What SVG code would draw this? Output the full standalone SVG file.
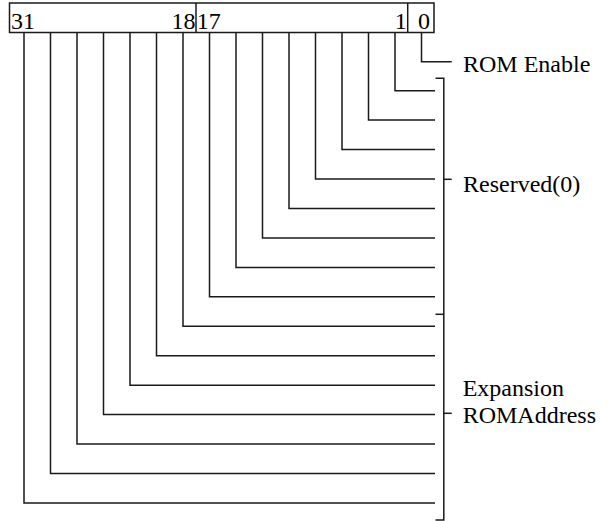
<svg xmlns="http://www.w3.org/2000/svg" width="613" height="521" viewBox="0 0 613 521">
<style>
.ln{fill:none;stroke:#1a1a1a;stroke-width:1.5}
.t{font-family:"Liberation Serif","Times New Roman",serif;font-size:24px;fill:#000}
</style>
<rect width="613" height="521" fill="#fff"/>
<g id="register">
<rect class="ln" x="9.5" y="3" width="424.5" height="29.5"/>
<line class="ln" x1="196" y1="3" x2="196" y2="32.5"/>
<line class="ln" x1="407.7" y1="3" x2="407.7" y2="32.5"/>
<text class="t" x="11" y="28.5">31</text>
<text class="t" x="195.5" y="28.5" text-anchor="end">18</text>
<text class="t" x="196.8" y="28.5">17</text>
<text class="t" x="406.8" y="28.5" text-anchor="end">1</text>
<text class="t" x="418" y="28.5">0</text>
</g>
<g id="connectors">
<path class="ln" d="M421.5 32.5V61.7H451.7"/>
<path class="ln" d="M395 32.5V90.7H435"/>
<path class="ln" d="M368.5 32.5V120.1H435"/>
<path class="ln" d="M342 32.5V149.6H435"/>
<path class="ln" d="M315.5 32.5V179H435"/>
<path class="ln" d="M289 32.5V208.5H435"/>
<path class="ln" d="M262.5 32.5V237.9H435"/>
<path class="ln" d="M236 32.5V267.4H435"/>
<path class="ln" d="M209.5 32.5V296.8H435"/>
<path class="ln" d="M183 32.5V326.3H435"/>
<path class="ln" d="M156.5 32.5V355.7H435"/>
<path class="ln" d="M130 32.5V385.2H435"/>
<path class="ln" d="M103.5 32.5V414.6H435"/>
<path class="ln" d="M77 32.5V444.1H435"/>
<path class="ln" d="M50.5 32.5V473.5H435"/>
<path class="ln" d="M24 32.5V503H435"/>
</g>
<g id="bracket">
<path class="ln" d="M435.5 78.3H443.8V520H435.5"/>
<line class="ln" x1="435.5" y1="314.3" x2="443.8" y2="314.3"/>
<line class="ln" x1="443.8" y1="179.3" x2="451.7" y2="179.3"/>
<line class="ln" x1="443.8" y1="413.3" x2="451.7" y2="413.3"/>
</g>
<g id="rom-enable"><text class="t" x="463" y="71.7">ROM Enable</text></g>
<g id="reserved"><text class="t" x="463" y="191.5">Reserved(0)</text></g>
<g id="expansion-rom-address">
<text class="t" x="462.7" y="396">Expansion</text>
<text class="t" x="462.7" y="422.5">ROMAddress</text>
</g>
</svg>
